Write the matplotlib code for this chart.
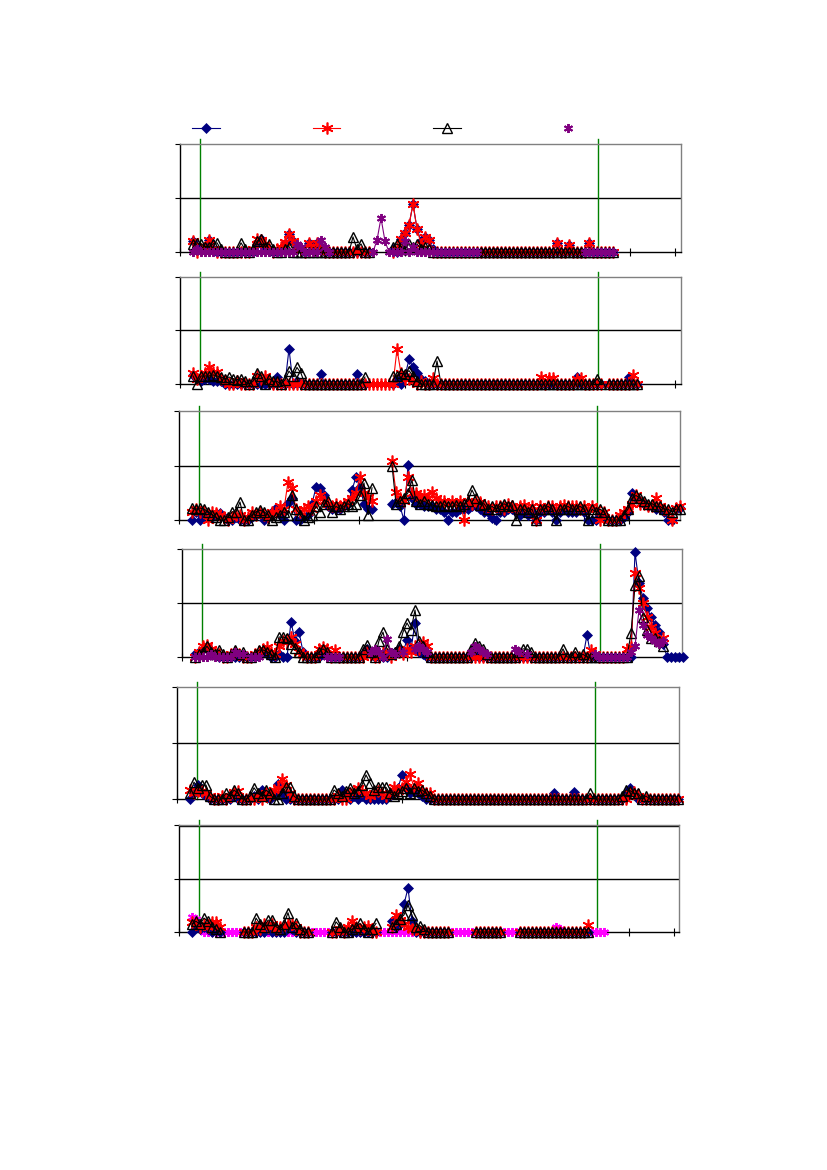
import numpy as np
import matplotlib
matplotlib.use('Agg')
import matplotlib.pyplot as plt
from matplotlib.lines import Line2D

nan = np.nan

# ---------------- Panel 1 ----------------
A1 = [2,1,.5,1,2.2,.5,0,0,0,0,
      0,0,0,0,0,0,1.5,2.4,1,.5,
      0,0,.5,1.5,3.3,2,1,.5,0,1.7,
      .5,1.7,1,0,0,0,0,0,0,0,
      0,0,0,0,0,nan,nan,nan,nan,nan,
      .5,0,2.5,3.5,5,8.9,4.3,2,2.8,2.2,
      .5,0,0,0,0,0,0,0,0,0,
      0,0,0,0,0,0,0,0,0,0,
      0,0,0,0,0,0,0,0,0,0,
      0,1.7,0,0,1.3,0,0,0,0,1.7,
      0,0,0,0,0,0]
B1 = [2,0,.5,1,2.2,.5,0,0,0,0,
      0,0,0,0,0,.5,2.4,2.3,1.5,.5,
      0,.5,1,1.9,3.3,2,1,.5,0,1.7,
      .5,1.7,.5,0,0,0,0,0,0,0,
      0,0,0,0,0,nan,nan,nan,nan,nan,
      0,.5,2.5,3.5,5,8.9,4.3,1.5,2.8,2.2,
      0,0,0,0,0,0,0,0,0,0,
      0,0,0,0,0,0,0,0,0,0,
      0,0,0,0,0,0,0,0,0,0,
      0,1.7,0,0,1.3,0,0,0,0,1.7,
      0,0,0,0,0,0]
C1 = [1.5,1.7,1.5,1,1,1.5,1.7,.5,0,0,
      0,0,1.7,.5,0,.5,2,2.5,1,1.5,
      .5,0,0,.5,1,0,0,0,0,0,
      0,0,0,0,0,0,0,0,0,0,
      2.8,.5,1.5,0,0,nan,nan,nan,nan,nan,
      1,1.5,1,.5,1.5,1,1.5,.5,1,.5,
      0,0,0,0,0,0,0,0,0,0,
      0,0,0,0,0,0,0,0,0,0,
      0,0,0,0,0,0,0,0,0,0,
      0,0,0,0,0,0,0,0,0,0,
      0,0,0,0,0,0]
D1 = [0,.5,0,0,0,0,0,0,0,0,
      0,0,0,0,0,0,0,0,0,0,
      0,0,0,0,0,0,1.5,1,0,0,
      0,0,2.2,1,0,nan,nan,nan,nan,nan,
      nan,nan,nan,nan,nan,0,2.2,6.3,2,0,
      0,0,0,2,0,1,0,0,0,0,
      0,0,0,0,0,0,0,0,0,0,
      0,0,nan,nan,nan,nan,nan,nan,nan,nan,
      nan,nan,nan,nan,nan,nan,nan,nan,nan,nan,
      nan,nan,nan,nan,nan,nan,nan,nan,0,0,
      0,0,0,0,0,0]

# ---------------- Panel 2 ----------------
A2 = [1.7,1,.5,1,1,.5,.5,.5,0,0,
      0,0,0,0,0,0,0,0,0,0,
      0,1.3,0,0,6.6,0,.5,0,0,0,
      0,0,1.8,0,0,0,0,0,0,0,
      0,1.8,0,0,nan,nan,nan,nan,nan,nan,
      0,1,0,1.5,4.6,3.1,2,1,.5,0,
      0,0,0,0,0,0,0,0,0,0,
      0,0,0,0,0,0,0,0,0,0,
      0,0,0,0,0,0,0,0,0,0,
      0,0,0,0,0,0,1.3,0,0,0,
      0,0,0,nan,0,0,0,0,0,1.3,
      0,0]
B2 = [2,1,1.5,2,3.1,2.2,2.2,1,.5,0,
      0,.5,0,0,0,0,1.5,1,1.5,.5,
      0,0,0,0,0,0,0,0,0,0,
      0,0,0,0,0,0,0,0,0,0,
      0,0,0,0,0,0,0,0,0,0,
      0,6.5,2,1,1,.5,0,.5,0,0,
      1.1,0,0,0,0,0,0,0,0,0,
      0,0,0,0,0,0,0,0,0,0,
      0,0,0,0,0,0,0,1.3,0,1.2,
      1.2,0,0,0,0,0,1,1.2,0,0,
      0,0,0,nan,0,0,0,0,0,0,
      1.7,0]
C2 = [1.5,0,1.5,1.5,1.5,1.7,1.5,1.3,1,1.3,
      1,.8,1,.5,0,.5,2,1.5,0,1,
      .5,.5,0,.8,2.4,1.5,3.1,2,0,0,
      0,0,0,0,0,0,0,0,0,0,
      0,0,0,1.3,nan,nan,nan,nan,nan,nan,
      1.5,1.5,2,1.8,2.5,1.5,.5,0,0,0,
      0,4.3,0,0,0,0,0,0,0,0,
      0,0,0,0,0,0,0,0,0,0,
      0,0,0,0,0,0,0,0,0,0,
      0,0,0,0,0,0,0,0,0,0,
      0,1,0,nan,0,0,0,0,0,0,
      0,0]

# ---------------- Panel 3 ----------------
A3 = [0,1.5,0,1,1,.5,1,1.3,.5,0,
      0,.5,0,0,0,.5,1,1.2,0,.5,
      1.5,2.2,1,0,3.1,4,0,0,.5,1,
      3,6,5.9,4.6,2.5,2,2,2,2.5,3,
      5.5,7.9,6,3,2,2,nan,nan,nan,nan,
      3,3.3,2.5,0,10.1,4,3,3,2.5,2.5,
      2.5,2,2,1.5,0,1.5,1.5,2,2,2,
      2.5,2.5,2,1.5,1.5,.4,0,1.5,1.5,2,
      2,1.5,1,1.5,1,1.5,0,1.5,1.5,2,
      1.5,0,1.5,2,1.5,1.5,1.5,2,1.5,0,
      0,0,1,1,0,0,0,0,.5,1.5,
      5,4,3.5,3,2.5,2.5,2,2,1.5,0,
      0,2,2.2]
B3 = [1.5,2,1.5,1.5,0,1.5,1.2,1,.5,0,
      .5,1,1,0,.5,1.5,1,1.5,1,.5,
      1.5,1.5,2.5,2,7,5.9,2,1.5,2,2.5,
      2,3.5,4.6,3.5,3,2.5,3,2.5,3,3.5,
      4,5,7.9,5,4.2,3.5,nan,nan,nan,nan,
      10.8,5.1,4,3.5,7.9,5,5,4,4.6,4,
      5.1,4,3.5,3.5,3,3.5,3,3.5,0,3.5,
      3,3.5,3.3,2.5,2.5,2,2.5,2.5,2,3,
      2.5,2,2.5,2.8,2,2.5,0,2.5,2,2.5,
      2.5,2,2.5,2.8,2.5,2.5,2.5,2,2.5,2,
      2.5,2,0,1.5,0,0,0,1,1.5,2,
      3,4.5,3,3,2.5,2.5,4,2.5,2,1.5,
      0,2.2,2.5]
C3 = [2.2,2,2.2,2,1.5,1,.5,0,0,.5,
      1.5,1.5,3.3,0,0,1,1.5,1.8,1.5,1,
      0,.5,1,1.5,1,4.6,2,1,0,.5,
      1,2.5,1.5,3,3.5,1.5,2.5,2,2.5,3,
      2.5,3,4.5,6.8,1,5.9,nan,nan,nan,nan,
      10,3,3.5,4,5,7.3,3.5,3,3.5,3,
      2.8,2.5,2.5,2.8,2.5,2.5,2.8,2.5,3,3.5,
      5.5,4,2.8,3,2,2.5,2,2.5,3,2.5,
      2.8,0,2,2,1.5,2,0,2,2,2.5,
      2,0,2,2,2.5,2,2,2.5,2,0,
      2,1.5,2,1.5,0,0,0,0,1,2,
      4,4.5,4,3.5,3,3,2.5,2.5,2,2,
      1.5,2,2]

# ---------------- Panel 4 ----------------
A4 = [.5,1,1.5,2,1,.5,0,0,0,0,
      0,0,0,0,0,0,.5,1,.5,0,
      0,.5,0,0,6.5,3,4.6,1,0,0,
      0,0,.5,1,0,0,0,0,0,0,
      0,0,.5,1.5,.5,0,0,0,0,.5,
      1,1.5,1,3.1,1.5,6.3,1,.5,0,0,
      0,0,0,0,0,0,0,0,0,0,
      .5,0,0,0,0,0,0,0,0,0,
      0,0,0,0,0,0,0,0,0,0,
      0,0,0,0,0,0,0,0,4.1,0,
      0,0,0,0,0,0,0,0,0,0,
      19.4,13.7,11,9,7.5,6,4.6,2.5,0,0,
      0,0,0]
B4 = [0,1,2,2.2,1.5,1,.5,0,0,.5,
      1,.5,0,0,0,.5,1,1.5,1.9,1,
      .5,2,3,2.8,3.7,2.5,1,.5,0,0,
      0,1.5,1.9,1.5,0,1.3,0,0,0,0,
      0,0,0,1,.5,0,0,1,.5,0,
      .5,1,.5,1.5,1,2,1.5,2.8,2,0,
      0,0,0,0,0,0,0,0,0,0,
      0,0,0,0,0,0,0,0,0,0,
      0,0,0,0,0,0,0,0,0,0,
      0,0,0,0,0,0,0,0,0,1.3,
      .5,0,0,0,0,0,0,0,1.5,1.9,
      15.5,12.8,10,7.5,5.5,4.5,3,3.5,nan,nan,
      nan,nan,nan]
C4 = [0,.5,1,2,1,.5,1.3,.5,0,.5,
      1.3,.5,1,0,0,.5,1.3,1.3,1,.5,
      0,3.7,3.7,3.5,2.5,1.7,1,0,0,0,
      0,1,1.5,1,0,0,0,0,0,0,
      0,0,1.5,2.2,1,0,3,4.6,1.5,.5,
      1,2,4.6,6.3,5,8.7,3,2,1,0,
      0,0,0,0,0,0,0,0,0,1.5,
      2.6,2,1.5,.5,0,0,0,0,0,0,
      0,1,1.5,1.5,1,0,0,0,0,0,
      0,0,1.5,0,0,1,0,.5,0,0,
      0,0,0,0,0,0,0,0,0,4.4,
      13.3,15,7.4,5,3.5,3.5,3,2,nan,nan,
      nan,nan,nan]
D4 = [0,0,0,0,.5,0,0,0,0,0,
      1,.5,.5,nan,0,0,0,nan,nan,nan,
      nan,nan,nan,nan,nan,nan,nan,nan,nan,nan,
      nan,nan,nan,0,0,0,0,nan,nan,nan,
      nan,nan,nan,nan,1,1.5,1,0,3.3,1,
      .5,nan,1,nan,nan,1.5,2,1.5,1,nan,
      nan,nan,nan,nan,nan,nan,nan,nan,nan,1,
      2,1.5,1,.5,nan,nan,nan,nan,nan,nan,
      1.5,1,nan,.5,nan,nan,nan,nan,nan,nan,
      nan,nan,nan,nan,nan,nan,nan,nan,nan,nan,
      .5,0,0,0,0,0,0,0,0,1,
      2,8.7,6,4,3.5,3,2.5,3,nan,nan,
      nan,nan,nan]

# ---------------- Panel 5 ----------------
A5 = [0,1,2.5,1,.5,0,0,0,0,0,
      0,.5,0,0,0,0,.5,0,1.6,.5,
      0,1,2.7,1,0,0,0,0,0,0,
      0,0,0,0,0,0,0,0,1.6,.5,
      0,.5,0,.5,0,0,0,0,0,0,
      .5,1,2,4.3,2,1,1.5,1,.5,0,
      0,0,0,0,0,0,0,0,0,0,
      0,0,0,0,0,0,0,0,0,0,
      0,0,0,0,0,0,0,0,0,0,
      0,1,0,0,0,0,1.3,0,0,0,
      0,0,0,0,0,0,0,0,0,1,
      2,1,0,0,0,0,0,0,0,0,
      0,0,0]
B5 = [1.6,1,1.5,1.5,1,.5,0,0,.5,0,
      .5,1.2,1.5,0,0,0,0,.5,0,1,
      .5,1.6,2,3.6,2.5,1,0,0,0,0,
      0,0,0,0,0,0,0,.5,0,0,
      1,1.5,2,1.5,1,.5,1,1.5,1,.5,
      1,2.1,1.5,2,3,4.5,2,2.8,1.5,1,
      1,0,0,0,0,0,0,0,0,0,
      0,0,0,0,0,0,0,0,0,0,
      0,0,0,0,0,0,0,0,0,0,
      0,0,0,0,0,0,0,0,0,0,
      0,0,0,0,0,0,0,0,0,0,
      1,1.3,.5,0,0,0,0,0,0,0,
      0,0,0]
C5 = [1,3,2,2.5,2.5,.5,0,0,0,1,
      .5,1.6,1,0,0,.5,2,1,.5,1.6,
      1,0,0,1,2.1,2.1,.5,0,0,0,
      0,0,0,0,0,0,1.6,1,.5,1.5,
      2,1,1.5,2.5,4.3,2.9,1.6,2.1,2.1,2.1,
      1,.5,1,1.5,2,1,2,1.5,1.6,1,
      .5,0,0,0,0,0,0,0,0,0,
      0,0,0,0,0,0,0,0,0,0,
      0,0,0,0,0,0,0,0,0,0,
      0,0,0,0,0,0,0,0,0,0,
      1,0,0,0,0,0,0,0,.5,1.6,
      1.5,1,1,0,.5,0,0,0,0,0,
      0,0,0]

# ---------------- Panel 6 ----------------
A6 = [0,1,.5,1,.5,0,.5,0,nan,nan,
      nan,nan,nan,0,0,0,0,0,0,.5,
      0,0,0,0,1.2,.5,0,0,0,0,
      nan,nan,nan,nan,nan,0,0,0,0,0,
      0,0,0,0,0,0,0,nan,nan,nan,
      2.1,1,1.5,5.2,8.2,2,0,0,0,0,
      0,0,0,0,0,nan,nan,nan,nan,nan,
      nan,0,0,0,0,0,0,0,nan,nan,
      nan,nan,0,0,0,0,0,0,0,0,
      0,0,0,0,0,0,0,0,0,0,
      nan,nan,nan,nan]
B6 = [1.9,1.5,1,1.5,1,1.9,1.9,1,nan,nan,
      nan,nan,nan,0,0,0,1,.5,1.5,1,
      1.5,.5,1,1.2,1.5,1.5,1,0,0,0,
      nan,nan,nan,nan,nan,0,0,.5,0,1,
      2.1,1,.5,1,1.2,0,0,nan,nan,nan,
      1,3.2,2.2,1.5,1,.5,.5,0,0,0,
      0,0,0,0,0,nan,nan,nan,nan,nan,
      nan,0,0,0,0,0,0,0,nan,nan,
      nan,nan,0,0,0,0,0,0,0,0,
      0,0,0,0,0,0,0,0,0,1.4,
      nan,nan,nan,nan]
C6 = [1.5,2,1.5,2.6,2,1,.5,0,nan,nan,
      nan,nan,nan,0,0,0,2.6,1.5,1,2.2,
      2.2,1,.5,1.5,3.6,1,1.6,.5,0,0,
      nan,nan,nan,nan,nan,0,1.9,1,0,0,
      .5,1,1.6,.5,0,.5,1.6,nan,nan,nan,
      1,1.5,2.5,3.2,5,3.2,1,1.2,.5,0,
      0,0,0,0,0,nan,nan,nan,nan,nan,
      nan,0,0,0,0,0,0,0,nan,nan,
      nan,nan,0,0,0,0,0,0,0,0,
      0,0,0,0,0,0,0,0,0,0,
      nan,nan,nan,nan]
D6 = [2.8,2.5,1,0,0,0,0,0,0,0,
      0,0,0,0,0,0,0,0,0,0,
      0,0,0,0,0,0,0,0,0,0,
      0,0,0,0,0,0,0,0,0,0,
      0,0,0,0,0,0,0,0,0,0,
      0,0,0,0,0,0,0,0,0,0,
      0,0,0,0,0,0,0,0,0,0,
      0,0,0,0,0,0,0,0,0,0,
      0,0,0,0,0,0,0,0,0,0,
      0,1,.5,0,0,0,0,0,0,0,
      0,0,0,0]

# ---------------- styling ----------------
W, H = 827, 1170
NAVY = '#000080'; RED = '#FF0000'; BLACK = '#000000'
PURPLE = '#800080'; MAGENTA = '#FF00FF'; GREEN = '#008000'
STAR = (6, 2, 0)

def sty(kind, col=None):
    if kind == 'A':
        return dict(color=NAVY, marker='D', ms=5, mfc=NAVY, mec=NAVY, mew=0.5)
    if kind == 'B':
        return dict(color=RED, marker=STAR, ms=8.5, mec=RED, mew=1.2)
    if kind == 'C':
        return dict(color=BLACK, marker='^', ms=6.5, mfc='none', mec=BLACK, mew=1.0)
    return dict(color=col, marker=STAR, ms=6.5, mec=col, mew=1.4)

# (left, right, top, bottom) in pixels, series in drawing order
panels = [
    ((180, 681, 144, 252), [('A', A1), ('B', B1), ('C', C1), ('D', D1, PURPLE)], False),
    ((180, 681, 277, 384), [('A', A2), ('B', B2), ('C', C2)], False),
    ((179, 680, 411, 520), [('A', A3), ('B', B3), ('C', C3)], False),
    ((182, 682, 549, 657), [('A', A4), ('B', B4), ('C', C4), ('D', D4, PURPLE)], False),
    ((177, 679, 687, 799), [('A', A5), ('B', B5), ('C', C5)], False),
    ((179, 679, 825, 932), [('D', D6, MAGENTA), ('A', A6), ('B', B6), ('C', C6)], True),
]
GREEN_OFFS = (19.5, 418.0)

fig = plt.figure(figsize=(W / 100, H / 100), dpi=100)

for (l, r, t, b), series, topgrid in panels:
    ax = fig.add_axes([l / W, 1 - b / H, (r - l) / W, (b - t) / H])
    width = r - l
    ax.set_xlim(-13 / 4, (width - 13) / 4)
    ax.set_ylim(0, 20)
    for s in series:
        kind, vals = s[0], s[1]
        col = s[2] if len(s) > 2 else None
        ax.plot(np.arange(len(vals)), vals, lw=0.8, clip_on=False, zorder=3,
                **sty(kind, col))
    ax.axhline(10, color='black', lw=1.0, zorder=1)
    if topgrid:
        ax.axhline(19.8, color='black', lw=1.0, zorder=1)
    for g in GREEN_OFFS:
        ax.axvline((g - 13) / 4, ymin=0, ymax=1.045, color=GREEN, lw=1.0,
                   clip_on=False, zorder=1.5)
    ax.set_xticks([(45 * k - 13) / 4 for k in range(12)])
    ax.set_yticks([0, 10, 20])
    ax.tick_params(axis='x', direction='inout', length=6, width=0.8,
                   labelbottom=False, color='black')
    ax.tick_params(axis='y', direction='out', length=3.5, width=0.8,
                   labelleft=False, color='black')
    for side in ('top', 'right'):
        ax.spines[side].set_color('#808080')
        ax.spines[side].set_linewidth(1.0)
    for side in ('left', 'bottom'):
        ax.spines[side].set_color('black')
        ax.spines[side].set_linewidth(1.0)
    ax.set_facecolor('none')

handles = [
    Line2D([], [], lw=0.8, **sty('A')),
    Line2D([], [], lw=0.8, **sty('B')),
    Line2D([], [], lw=0.8, **sty('C')),
    Line2D([], [], lw=0, linestyle='none', **sty('D', PURPLE)),
]
fig.legend(handles, ['', '', '', ''], loc='center left',
           bbox_to_anchor=(192 / W, 1 - 129 / H), ncol=4, frameon=False,
           handlelength=2, handletextpad=0, columnspacing=6.69,
           borderpad=0, borderaxespad=0, fontsize=10, numpoints=1)

fig.savefig('out.png', dpi=100)
